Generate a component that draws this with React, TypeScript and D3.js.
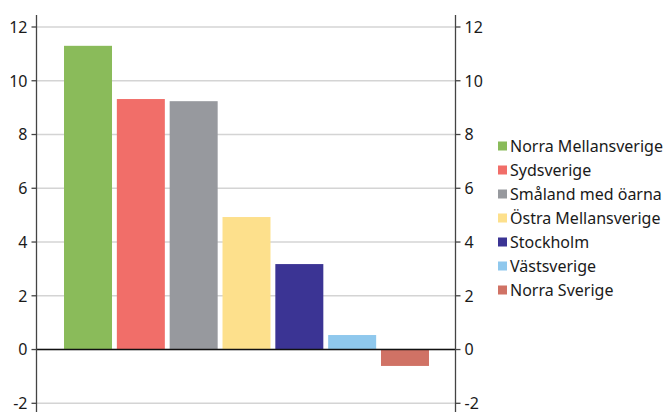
import React from "react";
import * as d3 from "d3";

const categories = [
  "Norra Mellansverige",
  "Sydsverige",
  "Småland med öarna",
  "Östra Mellansverige",
  "Stockholm",
  "Västsverige",
  "Norra Sverige",
];
const values = [11.3, 9.32, 9.24, 4.93, 3.18, 0.54, -0.61];
const colors = ["#8abb5a", "#f16e69", "#97999e", "#fde08c", "#3b3494", "#8fc8ed", "#d07265"];
const yTicks = [-2, 0, 2, 4, 6, 8, 10, 12];

const W = 664;
const H = 412;
const left = 36.5;
const right = 455.5;
const font = "'Noto Sans', 'Open Sans', sans-serif";

export default function App() {
  const y = d3.scaleLinear().domain([-2, 12]).range([403.3, 27]);
  const x = d3.scaleBand<string>().domain(categories).range([61.6, 431.4]).paddingInner(0.0915).paddingOuter(0.0457);

  return (
    <svg width={W} height={H} style={{ position: "absolute", left: 0, top: 0 }}>
      <rect x={0} y={0} width={W} height={H} fill="#fff" />
      {yTicks.map((t) => (
        <line key={"g" + t} x1={left} x2={right} y1={y(t)} y2={y(t)} stroke="#d4d4d4" strokeWidth={1.5} />
      ))}
      {categories.map((c, i) => {
        const v = values[i];
        const y0 = y(0);
        const y1 = y(v);
        return (
          <rect
            key={c}
            x={x(c)}
            width={x.bandwidth()}
            y={Math.min(y0, y1)}
            height={Math.abs(y1 - y0)}
            fill={colors[i]}
          />
        );
      })}
      <line x1={left} x2={right} y1={y(0)} y2={y(0)} stroke="#111" strokeWidth={1.5} />
      <line x1={left} x2={left} y1={15} y2={H} stroke="#444" strokeWidth={1.3} />
      <line x1={right} x2={right} y1={15} y2={H} stroke="#444" strokeWidth={1.3} />
      {yTicks.map((t) => (
        <g key={"t" + t}>
          <line x1={left - 5} x2={left} y1={y(t)} y2={y(t)} stroke="#444" strokeWidth={1.3} />
          <line x1={right} x2={right + 5} y1={y(t)} y2={y(t)} stroke="#444" strokeWidth={1.3} />
          <text x={27.5} y={y(t)} dy="0.36em" textAnchor="end" fontSize={16} fontFamily={font} fill="#1a1a1a">
            {t}
          </text>
          <text x={464.5} y={y(t)} dy="0.36em" textAnchor="start" fontSize={16} fontFamily={font} fill="#1a1a1a">
            {t}
          </text>
        </g>
      ))}
      {categories.map((c, i) => {
        const cy = 146 + i * 24;
        return (
          <g key={"l" + c}>
            <rect x={498} y={cy - 4.5} width={9} height={9} fill={colors[i]} />
            <text x={510} y={cy} dy="0.36em" fontSize={16} fontFamily={font} fill="#1a1a1a">
              {c}
            </text>
          </g>
        );
      })}
    </svg>
  );
}
